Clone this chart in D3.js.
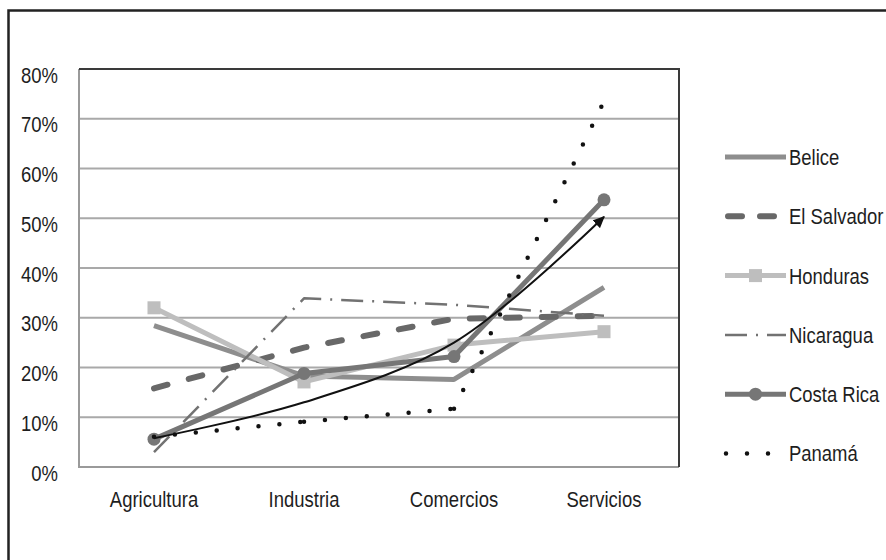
<!DOCTYPE html>
<html>
<head>
<meta charset="utf-8">
<script src="https://cdn.jsdelivr.net/npm/d3@7"></script>
<style>
  body { margin: 0; background: #fff; }
  svg text { font-family: "Liberation Sans", Arial, sans-serif; fill: #1e1e1e; }
</style>
</head>
<body>
<script>
// Data (percent of employment by sector)
var categories = ["Agricultura", "Industria", "Comercios", "Servicios"];
var yTicks = [0, 10, 20, 30, 40, 50, 60, 70, 80];

var belice     = [28.4, 18.3, 17.6, 36.1];
var elSalvador = [15.8, 24.0, 29.8, 30.4];
var honduras   = [32.0, 17.1, 24.5, 27.2];
var nicaragua  = [3.0, 33.9, 32.6, 30.4];
var costaRica  = [5.6, 18.8, 22.2, 53.7];
var panama     = [6.1, 9.1, 11.7, 73.5];
var trend      = [5.8, 13.0, 25.0, 50.3];

var seriesNames = ["Belice", "El Salvador", "Honduras", "Nicaragua", "Costa Rica", "Panamá"];
var seriesValues = [belice, elSalvador, honduras, nicaragua, costaRica, panama];

// Line styles for each country
var styles = {
    "Belice":      {color: "#8e8e8e", width: 5},
    "El Salvador": {color: "#686868", width: 6, dash: "14 22", cap: "round"},
    "Honduras":    {color: "#bebebe", width: 5, marker: "square"},
    "Nicaragua":   {color: "#727272", width: 2.5, dash: "22 9 2 9"},
    "Costa Rica":  {color: "#767676", width: 5, marker: "circle"},
    "Panamá":      {color: "#111", width: 4.5, dash: "0 21", cap: "round", perSegment: true}
};

var width = 886, height = 560;
var margin = {top: 69, left: 79},
    plotWidth = 600,
    plotHeight = 398;

var squeeze = 0.84;

// the original uses a narrow sans; squeeze the text horizontally
function narrow(sel) {
    sel.each(function() {
        var w = this.getComputedTextLength();
        d3.select(this)
            .attr("textLength", w * squeeze)
            .attr("lengthAdjust", "spacingAndGlyphs");
    });
}

var svg = d3.select("body").append("svg")
    .attr("width", width)
    .attr("height", height);

// Outer frame (runs off the right and bottom edges)
svg.append("rect")
    .attr("x", 8.5)
    .attr("y", 10.5)
    .attr("width", 1000)
    .attr("height", 1000)
    .attr("fill", "none")
    .attr("stroke", "#222")
    .attr("stroke-width", 2.5);

var defs = svg.append("defs");
defs.append("marker")
    .attr("id", "arrow")
    .attr("viewBox", "0 -5 10 10")
    .attr("refX", 9)
    .attr("refY", 0)
    .attr("markerUnits", "userSpaceOnUse")
    .attr("markerWidth", 12)
    .attr("markerHeight", 12)
    .attr("orient", "auto")
  .append("path")
    .attr("d", "M0,-4.5L10,0L0,4.5Z")
    .attr("fill", "#111");

var g = svg.append("g")
    .attr("transform", "translate(" + margin.left + "," + margin.top + ")");

// Scales
var x = d3.scaleBand()
    .domain(categories)
    .range([0, plotWidth]);

var cx = d => x(d) + x.bandwidth() / 2;

var y = d3.scaleLinear()
    .domain([0, 80])
    .range([plotHeight, 0]);

// Gridlines
g.selectAll(".grid")
    .data(yTicks.filter(d => d > 0 && d < 80))
    .enter().append("line")
    .attr("class", "grid")
    .attr("x1", 0)
    .attr("x2", plotWidth)
    .attr("y1", d => y(d))
    .attr("y2", d => y(d))
    .attr("stroke", "#a9a9a9")
    .attr("stroke-width", 2);

// Plot border: left/bottom grey, top/right dark
g.append("path")
    .attr("d", "M0,0V" + plotHeight + "H" + plotWidth)
    .attr("fill", "none")
    .attr("stroke", "#9a9a9a")
    .attr("stroke-width", 2);
g.append("path")
    .attr("d", "M0,0H" + plotWidth + "V" + plotHeight)
    .attr("fill", "none")
    .attr("stroke", "#3a3a3a")
    .attr("stroke-width", 2);

// Y axis labels
var yAxis = g.append("g")
    .call(d3.axisLeft(y).tickValues(yTicks).tickSize(0).tickPadding(21).tickFormat(d => d + "%"));
yAxis.select(".domain").remove();
yAxis.selectAll("text")
    .attr("dy", "0.6em")
    .style("font-size", "22px")
    .style("fill", "#1e1e1e")
    .call(narrow);

// X axis labels
var xAxis = g.append("g")
    .attr("transform", "translate(0," + plotHeight + ")")
    .call(d3.axisBottom(x).tickSize(0).tickPadding(24));
xAxis.select(".domain").remove();
xAxis.selectAll("text")
    .style("font-size", "22px")
    .style("fill", "#1e1e1e")
    .call(narrow);

var line = d3.line()
    .x((d, i) => cx(categories[i]))
    .y(d => y(d));

// Draw each country
seriesNames.forEach(function(name, k) {
    var s = styles[name];
    var values = seriesValues[k];

    if (s.perSegment) {
        // dotted pattern restarts at each category like the original
        d3.pairs(values.map((v, i) => [categories[i], v])).forEach(function(p) {
            g.append("path")
                .attr("d", d3.line().x(d => cx(d[0])).y(d => y(d[1]))(p))
                .attr("fill", "none")
                .attr("stroke", s.color)
                .attr("stroke-width", s.width)
                .attr("stroke-dasharray", s.dash)
                .attr("stroke-linecap", s.cap);
        });
    } else {
        g.append("path")
            .datum(values)
            .attr("d", line)
            .attr("fill", "none")
            .attr("stroke", s.color)
            .attr("stroke-width", s.width)
            .attr("stroke-dasharray", s.dash || null)
            .attr("stroke-linecap", s.cap || "butt")
            .attr("stroke-linejoin", "round");
    }

    if (s.marker === "square") {
        g.selectAll(".sq" + k)
            .data(values)
            .enter().append("rect")
            .attr("x", (d, i) => cx(categories[i]) - 6.5)
            .attr("y", d => y(d) - 6.5)
            .attr("width", 13)
            .attr("height", 13)
            .attr("fill", s.color);
    }
    if (s.marker === "circle") {
        g.selectAll(".ci" + k)
            .data(values)
            .enter().append("circle")
            .attr("cx", (d, i) => cx(categories[i]))
            .attr("cy", d => y(d))
            .attr("r", 6.5)
            .attr("fill", s.color);
    }
});

// Trend arrow
g.append("path")
    .datum(trend)
    .attr("d", line.curve(d3.curveCatmullRom.alpha(0.5)))
    .attr("fill", "none")
    .attr("stroke", "#111")
    .attr("stroke-width", 2)
    .attr("marker-end", "url(#arrow)");

// Legend
var legend = svg.append("g")
    .attr("transform", "translate(725,157)");

seriesNames.forEach(function(name, k) {
    var s = styles[name];
    var ly = k * 59.3;
    var item = legend.append("g").attr("transform", "translate(0," + ly + ")");

    if (name === "Panamá") {
        item.append("line")
            .attr("x1", 1).attr("x2", 44)
            .attr("stroke", s.color)
            .attr("stroke-width", s.width)
            .attr("stroke-dasharray", s.dash)
            .attr("stroke-linecap", "round");
    } else if (name === "El Salvador") {
        item.append("line")
            .attr("x1", 3).attr("x2", 60)
            .attr("stroke", s.color)
            .attr("stroke-width", s.width)
            .attr("stroke-dasharray", "14 18")
            .attr("stroke-linecap", "round");
    } else {
        item.append("line")
            .attr("x1", 0).attr("x2", 61)
            .attr("stroke", s.color)
            .attr("stroke-width", s.width)
            .attr("stroke-dasharray", s.dash ? "22 9 2 9" : null);
    }

    if (s.marker === "square") {
        item.append("rect")
            .attr("x", 24).attr("y", -6.5)
            .attr("width", 13).attr("height", 13)
            .attr("fill", s.color);
    }
    if (s.marker === "circle") {
        item.append("circle")
            .attr("cx", 30.5).attr("r", 6.5)
            .attr("fill", s.color);
    }

    // scaled group so the measured box matches the narrow glyphs
    item.append("g")
        .attr("transform", "translate(64,0) scale(" + squeeze + ",1)")
      .append("text")
        .attr("dy", "0.36em")
        .style("font-size", "22px")
        .text(name);
});
</script>
</body>
</html>
